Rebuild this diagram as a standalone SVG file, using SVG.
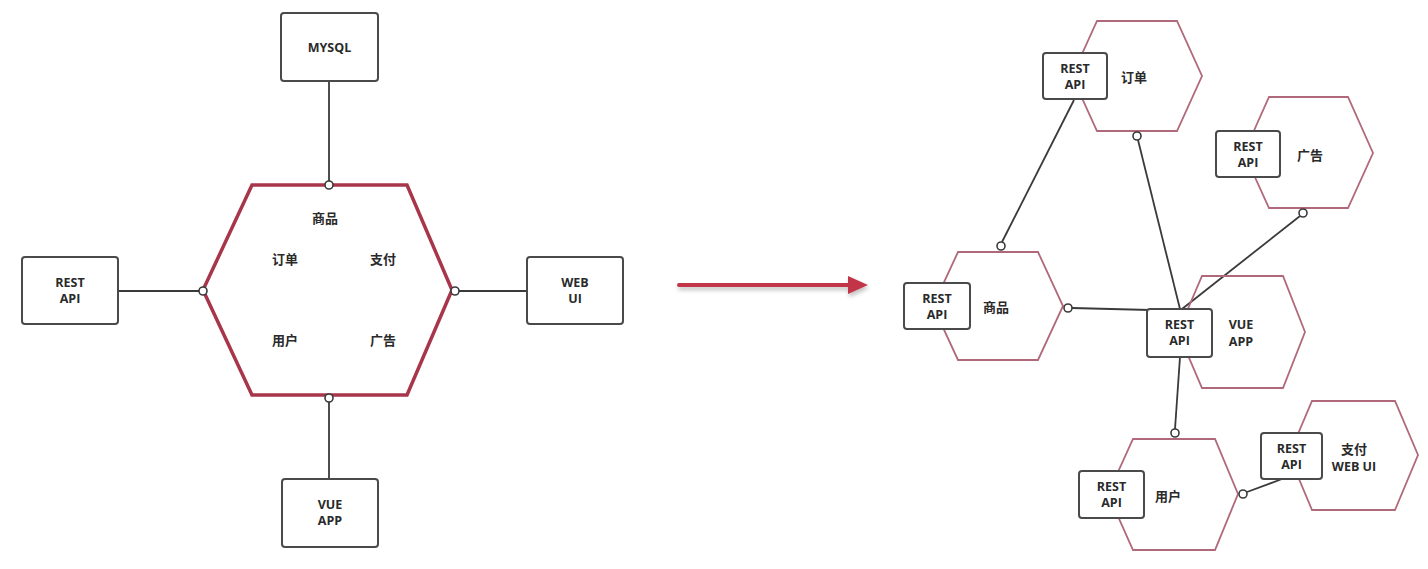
<svg xmlns="http://www.w3.org/2000/svg" width="1428" height="569" viewBox="0 0 1428 569">
<defs>
<style>
.box{fill:#fff;stroke:#4a4a4a;stroke-width:2}
.bighex{fill:#fff;stroke:#a8364b;stroke-width:3.5;stroke-linejoin:miter}
.hex{fill:none;stroke:#b0697a;stroke-width:1.8}
.ln{stroke:#3a3a3a;stroke-width:1.8;fill:none}
.dot{fill:#fff;stroke:#3a3a3a;stroke-width:1.6}
.t{font-family:"Open Sans","Noto Sans CJK SC",sans-serif;font-weight:bold;font-size:12.5px;fill:#2a2a2a;text-anchor:middle}
.c{font-family:"Noto Sans CJK SC","Open Sans",sans-serif;font-weight:bold;font-size:13px;fill:#2a2a2a;text-anchor:middle}
</style>
<filter id="sh" x="-10%" y="-100%" width="120%" height="400%">
<feDropShadow dx="1" dy="3" stdDeviation="2" flood-color="#000" flood-opacity="0.25"/>
</filter>
</defs>
<rect width="1428" height="569" fill="#fff"/>

<g id="connectors">
<line class="ln" x1="329" y1="81" x2="329" y2="182"/>
<line class="ln" x1="118" y1="291" x2="199" y2="291"/>
<line class="ln" x1="459" y1="291" x2="527" y2="291"/>
<line class="ln" x1="329" y1="402" x2="329" y2="479"/>
<line class="ln" x1="1074" y1="100" x2="1002" y2="242"/>
<line class="ln" x1="1138" y1="140" x2="1180" y2="309"/>
<line class="ln" x1="1300" y1="216" x2="1182" y2="309"/>
<line class="ln" x1="1072" y1="308" x2="1150" y2="310"/>
<line class="ln" x1="1180" y1="357" x2="1175" y2="429"/>
<line class="ln" x1="1247" y1="492" x2="1282" y2="479"/>
</g>

<g id="arrow" filter="url(#sh)">
<line x1="679" y1="285" x2="852" y2="285" stroke="#c2354a" stroke-width="4" stroke-linecap="round"/>
<polygon points="848,276 868,285 848,294" fill="#c2354a"/>
</g>

<g id="mysql">
<rect class="box" x="281" y="13" width="97" height="68" rx="3"/>
<text class="t" x="329.5" y="52">MYSQL</text>
</g>

<g id="monolith">
<polygon class="bighex" points="203,290 252,185 407,185 452,290 407,395 252,395"/>
<text class="c" x="325" y="223">商品</text>
<text class="c" x="285" y="264">订单</text>
<text class="c" x="383" y="264">支付</text>
<text class="c" x="285" y="345">用户</text>
<text class="c" x="383" y="345">广告</text>
<circle class="dot" cx="329" cy="185" r="4"/>
<circle class="dot" cx="203" cy="291" r="4"/>
<circle class="dot" cx="455" cy="291" r="4"/>
<circle class="dot" cx="329" cy="398" r="4"/>
</g>

<g id="rest-left">
<rect class="box" x="22" y="257" width="96" height="67" rx="3"/>
<text class="t" x="70" y="287">REST</text>
<text class="t" x="70" y="303">API</text>
</g>

<g id="webui-left">
<rect class="box" x="527" y="257" width="96" height="67" rx="3"/>
<text class="t" x="575" y="287">WEB</text>
<text class="t" x="575" y="303">UI</text>
</g>

<g id="vueapp-left">
<rect class="box" x="282" y="479" width="96" height="68" rx="3"/>
<text class="t" x="330" y="509">VUE</text>
<text class="t" x="330" y="525">APP</text>
</g>

<g id="order">
<polygon class="hex" points="1072,76 1097,21 1177,21 1202,76 1177,131 1097,131"/>
<rect class="box" x="1043" y="53" width="64" height="46" rx="3"/>
<text class="t" x="1075" y="73">REST</text>
<text class="t" x="1075" y="89">API</text>
<text class="c" x="1134" y="82">订单</text>
<circle class="dot" cx="1137" cy="136" r="4"/>
</g>

<g id="ad">
<polygon class="hex" points="1244,153 1269,97 1348,97 1373,153 1348,208 1269,208"/>
<rect class="box" x="1216" y="131" width="64" height="46" rx="3"/>
<text class="t" x="1248" y="151">REST</text>
<text class="t" x="1248" y="167">API</text>
<text class="c" x="1310" y="160">广告</text>
<circle class="dot" cx="1303" cy="213" r="4"/>
</g>

<g id="goods">
<polygon class="hex" points="933,306 958,252 1038,252 1063,306 1038,360 958,360"/>
<rect class="box" x="904" y="283" width="66" height="46" rx="3"/>
<text class="t" x="937" y="303">REST</text>
<text class="t" x="937" y="319">API</text>
<text class="c" x="996" y="312">商品</text>
<circle class="dot" cx="1001" cy="246" r="4"/>
<circle class="dot" cx="1068" cy="308" r="4"/>
</g>

<g id="vueapp">
<polygon class="hex" points="1178,332 1202,276 1283,276 1305,332 1283,388 1202,388"/>
<rect class="box" x="1147" y="309" width="65" height="48" rx="3"/>
<text class="t" x="1179.5" y="329">REST</text>
<text class="t" x="1179.5" y="345">API</text>
<text class="t" x="1241" y="329">VUE</text>
<text class="t" x="1241" y="346">APP</text>
</g>

<g id="user">
<polygon class="hex" points="1108,494 1133,439 1215,439 1238,494 1215,550 1133,550"/>
<rect class="box" x="1079" y="471" width="65" height="47" rx="3"/>
<text class="t" x="1111.5" y="491">REST</text>
<text class="t" x="1111.5" y="507">API</text>
<text class="c" x="1168" y="501">用户</text>
<circle class="dot" cx="1175" cy="433" r="4"/>
<circle class="dot" cx="1243" cy="494" r="4"/>
</g>

<g id="pay-webui">
<polygon class="hex" points="1289,455 1312,401 1395,401 1418,455 1395,510 1312,510"/>
<rect class="box" x="1261" y="433" width="61" height="46" rx="3"/>
<text class="t" x="1291.5" y="453">REST</text>
<text class="t" x="1291.5" y="469">API</text>
<text class="c" x="1354" y="454">支付</text>
<text class="t" x="1354" y="471">WEB UI</text>
</g>
</svg>
